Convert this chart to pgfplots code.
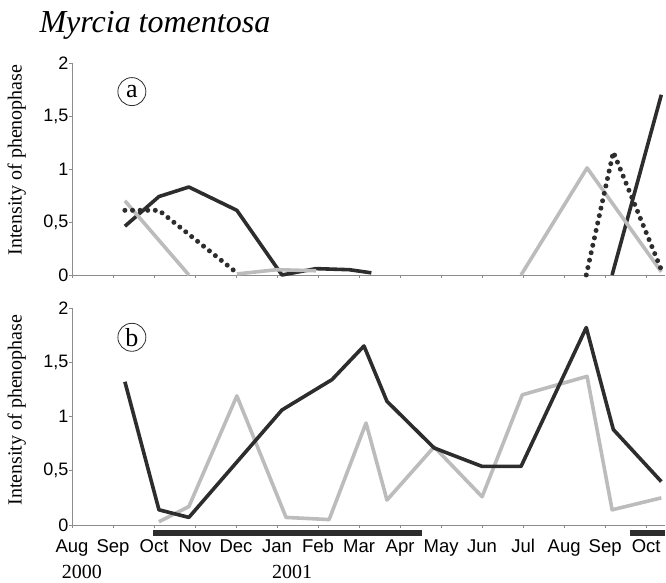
\documentclass[border=0pt]{standalone}
\usepackage{fontspec}
\setmainfont{Liberation Serif}
\newfontfamily\labsans{Liberation Sans}
\usepackage{pgfplots}
\pgfplotsset{compat=1.18}
\definecolor{darkline}{RGB}{45,45,45}
\definecolor{grayline}{RGB}{188,188,188}
\definecolor{axisgray}{RGB}{140,140,140}
\pgfplotsset{
  panel/.style={
    scale only axis, width=593pt, xmin=0, xmax=14.46, ymin=0, ymax=2,
    axis x line=bottom, axis y line=left,
    axis line style={-, draw=axisgray, line width=0.6pt},
    tick style={draw=axisgray, line width=0.5pt},
    major tick length=3pt, tick align=outside,
    xtick={0,...,14}, ytick={0,0.5,1,1.5,2},
    yticklabels={0,{0,5},1,{1,5},2},
    yticklabel style={font=\labsans\fontsize{18}{18}\selectfont, inner sep=0.5pt},
    label style={font=\fontsize{20}{20}\selectfont},
    clip=false,
  },
  blk/.style={darkline, line width=3.6pt, line join=round},
  gry/.style={grayline, line width=3.6pt, line join=round},
  dot/.style={darkline, line width=5pt, line cap=round, dash pattern=on 0pt off 7.6pt},
}
\tikzset{lett/.style={circle, draw=darkline, line width=0.8pt, inner sep=0pt, minimum size=28pt, font=\fontsize{26}{26}\selectfont}}
\begin{document}
\begin{tikzpicture}
\path[use as bounding box] (0,0) rectangle (666pt,583pt);
\node[anchor=base west, font=\fontsize{32}{32}\selectfont\itshape] at (36pt,550pt) {Myrcia tomentosa};
% ---------- panel a ----------
\begin{axis}[panel, at={(72pt,308pt)}, anchor=south west, height=212pt,
  xticklabels={},
  ylabel={Intensity of phenophase},
  ylabel style={at={(axis description cs:-0.093,0.542)}, anchor=center}]
\addplot[blk] coordinates {(1.29,0.46) (2.12,0.74) (2.85,0.83) (4.02,0.61) (5.12,0.0) (5.95,0.06) (6.76,0.05) (7.3,0.02)};
\addplot[blk] coordinates {(13.17,0.0) (14.37,1.70)};
\addplot[gry] coordinates {(1.29,0.70) (2.85,0.0)};
\addplot[gry] coordinates {(4.02,0.01) (5.0,0.05) (5.95,0.04)};
\addplot[gry] coordinates {(10.95,0.0) (12.56,1.01) (14.37,0.03)};
\addplot[dot] coordinates {(1.29,0.61) (2.12,0.61) (4.02,0.02)};
\addplot[dot] coordinates {(12.54,0.0) (13.2,1.16) (14.37,0.05)};
\node[lett] at (axis cs:1.46,1.73) {a};
\end{axis}
% ---------- panel b ----------
\begin{axis}[panel, at={(72pt,58pt)}, anchor=south west, height=217pt,
  xticklabels={Aug,Sep,Oct,Nov,Dec,Jan,Feb,Mar,Apr,May,Jun,Jul,Aug,Sep,Oct},
  xticklabel style={font=\labsans\fontsize{18.5}{18.5}\selectfont, anchor=base, yshift=-25pt},
  ylabel={Intensity of phenophase},
  ylabel style={at={(axis description cs:-0.093,0.53)}, anchor=center}]
\addplot[darkline, line width=6pt] coordinates {(1.98,-0.074) (8.54,-0.074)};
\addplot[darkline, line width=6pt] coordinates {(13.6,-0.074) (14.46,-0.074)};
\addplot[gry] coordinates {(2.12,0.03) (2.85,0.17) (4.02,1.19) (5.22,0.07) (6.27,0.05) (7.17,0.94) (7.68,0.23) (8.83,0.72) (10.0,0.26) (10.98,1.20) (12.56,1.37) (13.17,0.14) (14.37,0.25)};
\addplot[blk] coordinates {(1.29,1.32) (2.12,0.14) (2.85,0.07) (5.12,1.06) (6.34,1.34) (7.12,1.65) (7.68,1.14) (8.83,0.71) (10.0,0.54) (10.95,0.54) (12.54,1.82) (13.2,0.88) (14.37,0.40)};
\node[lett] at (axis cs:1.46,1.73) {b};
\node[anchor=base, inner sep=0pt, font=\fontsize{20}{20}\selectfont] at (axis cs:0.24,-0.49) {2000};
\node[anchor=base, inner sep=0pt, font=\fontsize{20}{20}\selectfont] at (axis cs:5.37,-0.49) {2001};
\end{axis}
\end{tikzpicture}
\end{document}
